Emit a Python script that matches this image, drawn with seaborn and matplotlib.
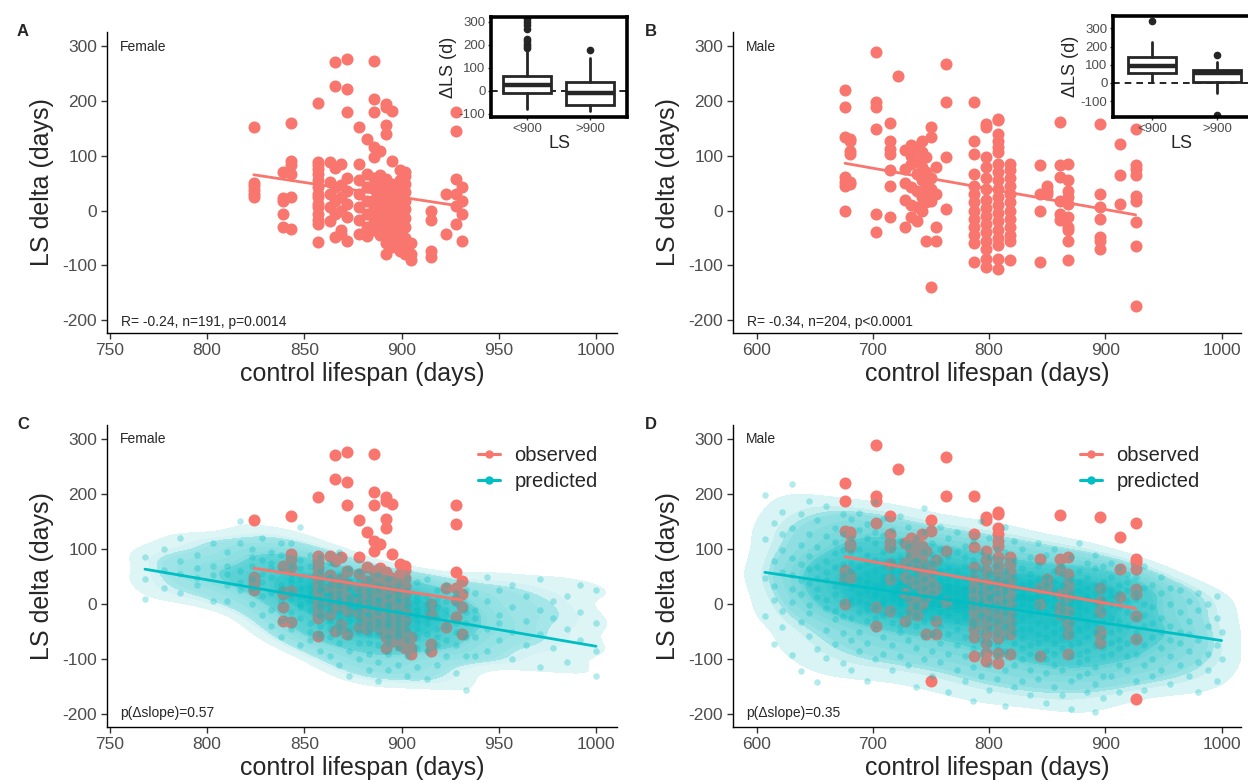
import numpy as np
import pandas as pd
import matplotlib
matplotlib.use("Agg")
import matplotlib.pyplot as plt
from matplotlib.colors import LinearSegmentedColormap, ListedColormap
from matplotlib.lines import Line2D
import seaborn as sns

RED = "#F8766D"
TEAL = "#00BFC4"

# ---- observed data: control lifespan (column) -> LS delta values ----
fem_cols = [824, 839, 843, 857, 863, 866, 869, 872, 878, 882, 886, 889, 892, 895,
            899, 902, 905, 915, 923, 928, 931]
fem_vals = [
    [152, 50, 44, 38, 30, 25],
    [70, 22, 18, -6, -30],
    [160, 91, 82, 67, 24, -33],
    [195, 88, 82, 75, 66, 55, 42, 30, 24, 12, 6, -6, -18, -25, -58],
    [88, 52, 30, 6, -20],
    [270, 227, 78, 42, 18, -6, -48],
    [85, 46, 24, 0, -36, -42],
    [276, 221, 179, 60, 36, 12, -12, -55],
    [152, 85, 55, 30, 6, -18, -42],
    [130, 67, 42, 18, -6, -30, -46],
    [273, 203, 179, 115, 97, 60, 40, 20, 5, -15, -35],
    [109, 65, 50, 30, 12, -5, -25, -45],
    [194, 188, 155, 139, 58, 40, 24, 8, -8, -24, -40, -60, -79],
    [182, 91, 48, 32, 16, 0, -16, -32, -50, -67],
    [73, 55, 40, 26, 10, -6, -22, -40, -58, -74],
    [70, 62, 48, 33, 18, 2, -14, -30, -50, -66, -79],
    [-60, -79, -91],
    [0, -18, -73, -85],
    [30, -42],
    [179, 145, 58, 30, 8, -24],
    [42, 18, -6, -55],
]

male_cols = [676, 680, 703, 715, 722, 728, 733, 738, 742, 746, 750, 754, 763, 787,
             797, 808, 818, 844, 850, 861, 868, 895, 913, 926]
male_vals = [
    [219, 188, 133, 61, 52, 45, 0],
    [127, 130, 109, 103, 52, 48],
    [288, 197, 188, 148, -6, -39],
    [159, 127, 112, 103, 73, 45, -12],
    [245],
    [110, 75, 50, 20, -30],
    [120, 100, 85, 42, 10, -12],
    [115, 90, 67, 35, 6, -20],
    [127, 106, 79, 55, 25, 0],
    [97, 70, 45, 30, 15, -55],
    [152, 133, 60, 40, 18, -139],
    [80, 30, -30, -55],
    [267, 197, 97, 3],
    [197, 127, 103, 67, 45, 30, 15, 0, -15, -30, -45, -60, -94],
    [158, 152, 97, 80, 60, 40, 20, 5, -10, -25, -40, -55, -70, -88, -103],
    [167, 164, 139, 127, 115, 106, 85, 70, 55, 40, 25, 10, -5, -20, -35, -50, -62, -88, -106],
    [85, 73, 60, 45, 30, 15, 0, -15, -30, -45, -55, -91],
    [82, 30, 0, -94],
    [45, 36, 30],
    [161, 82, 61, 18, -6, -18],
    [85, 55, 36, 24, 12, -12, -30, -36, -55, -91],
    [158, 30, 6, -15, -48, -55, -70],
    [121, 64, 12],
    [148, 82, 76, 64, 27, 18, -21, -64, -173],
]

# ---- predicted data (sample of the simulated cloud) ----
pf_cols = [768, 778, 786, 795, 803, 810, 817, 823, 828, 833, 838, 843, 848, 853, 858,
           863, 868, 873, 878, 883, 888, 893, 898, 903, 908, 913, 918, 923, 928, 933,
           938, 944, 950, 957, 964, 971, 978, 985, 992, 1000]
pf_vals = [
    [45, 85, 10],
    [62, 100, 30],
    [55, 78, 20, 120],
    [48, 65, 35, 90],
    [110, 52, 5, 70],
    [35, 95, 55, 70, 5],
    [110, 40, 150, 60, 25],
    [85, 45, 0, 70, 100, 30],
    [-20, 55, 80, 15, 40, 120],
    [-40, 65, 95, 20, 50, -10, 75],
    [35, 5, 60, -30, 90, 25, -60, 110],
    [45, 10, 70, -15, 40, 110, -45, 20, 55],
    [-5, 80, 30, -75, 0, 45, -25, 65, 15, 140],
    [15, -50, 35, -10, 90, 50, -35, 5, 25, -65, 70],
    [40, 10, -20, 60, -5, -85, 25, 85, -40, 0, 30, -55],
    [-30, 5, 35, -60, 20, -10, 50, -95, 15, -45, 75, 0],
    [20, -40, 55, -15, 5, -70, 35, -25, 10, -110, 95, -50, 0],
    [-5, 30, -60, 15, -30, 45, -85, 0, -20, 65, -45, 10, -130],
    [25, -35, 5, -70, 40, -15, -50, 15, -100, 0, 60, -25, -5],
    [-20, 10, -55, 30, -35, -5, -90, 20, -45, 45, -120, 0, -70],
    [5, -40, 25, -15, -75, 35, -55, -30, 10, -105, 55, -5, -140],
    [-25, 15, -60, -5, -40, 30, -90, -15, 0, -70, 45, -120, -35],
    [-10, -50, 20, -30, -80, 5, -60, -20, 35, -110, -40, 10],
    [-35, 0, -65, 25, -20, -95, -45, 10, -130, -5, 50],
    [-45, -10, -80, 15, -30, -60, -115, 5, -20, 40],
    [-10, -55, 15, -35, -85, 0, 45, -25, -135],
    [-45, -5, -75, 25, -25, -110, 10, -60],
    [-20, -65, 5, -40, 35, -95, -10],
    [-35, 0, -75, 20, -50, -125],
    [-60, -15, -95, 25, -35, -155],
    [-10, -60, 20, -25, -95],
    [-45, 5, 50, -85],
    [-20, 25, -65, -35],
    [-5, -50, 35, -100],
    [-30, 15, -75],
    [-55, -10, 45, -115],
    [-25, -80, 5],
    [-45, 15, -105],
    [-65, -15, 35],
    [-35, -85, -130, 25],
]

pm_cols = [607, 615, 622, 630, 638, 645, 652, 660, 667, 674, 681, 688, 695, 702, 709,
           716, 723, 730, 737, 744, 751, 758, 765, 772, 779, 786, 793, 800, 807, 814,
           821, 828, 835, 842, 849, 856, 863, 870, 877, 884, 891, 898, 905, 912, 919,
           926, 933, 940, 948, 956, 964, 972, 980, 988, 996, 1000]
pm_vals = [
    [48, 118, -22, 198],
    [78, 8, 148, -72, 33],
    [98, -12, 58, 168, -42, 128],
    [28, 83, -92, 138, 3, 218, 53],
    [108, -32, 43, 73, -122, 163, 18],
    [-2, 63, 128, -57, 88, 188, 38, -17],
    [48, -82, 103, 13, 153, 68, -142, 28],
    [78, -47, 123, -7, 43, 178, -97, 58, 8],
    [33, 93, -27, 138, -72, 68, -12, 113, 18],
    [53, -52, 98, 3, 163, -107, 38, 128, -22, 73],
    [30, 95, -65, 120, 0, 60, 155, -25, 75, 10, -120],
    [45, -50, 100, 20, 135, -15, 70, 5, 165, -85, 35],
    [55, -30, 90, 0, 120, -70, 25, 145, 40, -10, 75, -140],
    [15, 80, -45, 110, 35, -5, 60, -100, 130, 20, 185, -25],
    [50, -20, 95, 5, 70, -60, 125, 30, -90, 40, 0, 155],
    [-35, 65, 10, 100, -75, 45, 135, -10, 20, 80, -120, 55],
    [25, -50, 85, 0, 115, -20, 60, -95, 40, 160, 5, -40],
    [70, -15, 35, 105, -65, 10, 140, -35, 50, -110, 90, 20],
    [-5, 55, -80, 25, 120, -40, 80, 0, -150, 40, 65, -20],
    [45, -30, 95, 10, -60, 130, 30, -100, 70, -10, 15, 175],
    [20, -55, 75, -5, 110, 35, -85, 5, 55, -130, 90, -25],
    [-15, 60, 0, 100, -70, 30, -40, 140, 15, -105, 45, 80],
    [35, -20, 85, -55, 10, 120, -90, 50, -5, 65, -160, 25],
    [-30, 40, 5, 95, -75, 20, -120, 60, -10, 130, 0, -45],
    [15, -60, 70, -25, 105, 0, -95, 45, -140, 30, 85, -15],
    [-40, 25, -5, 80, -80, 50, -115, 10, 115, -30, 60, -175],
    [5, -50, 40, -90, 95, -20, 20, -130, 65, 0, -65, 150],
    [-25, 30, -70, 10, 85, -45, -110, 55, -5, 120, -155, 15],
    [-10, 45, -55, 0, -95, 70, 20, -135, 100, -30, 35, -75],
    [25, -40, 60, -85, -15, 95, -120, 5, -60, 40, -185, 140],
    [-35, 10, -70, 50, -110, 80, -5, -150, 30, -50, 115, -20],
    [0, -60, 35, -100, 65, -25, -140, 20, -80, 100, -45, 15],
    [-20, 40, -75, 10, -120, 55, -45, -165, 85, -5, -90, 30],
    [15, -55, -10, 70, -95, 30, -135, 0, -70, 110, -35, 45],
    [-40, 20, -85, 50, -15, -125, 5, -60, 90, -180, 35, -100],
    [-5, -70, 25, -110, 60, -35, -150, 10, -50, 100, -90, 40],
    [-25, 35, -80, 0, -120, 70, -45, -165, 15, -60, 55, -10],
    [10, -55, 45, -95, -15, -140, 85, -35, 20, -75, -190, 0],
    [-45, 25, -105, 60, -20, -70, 5, -130, 40, -90, 110, -5],
    [-30, 15, -85, 50, -125, -10, -60, 30, -160, 75, -40, -100],
    [0, -50, 35, -115, -20, 65, -75, -145, 20, -35, -195, 90],
    [-60, 10, -95, 40, -30, -130, 70, -10, -80, 25, -170],
    [0, -50, 50, -90, 25, -25, -130, 75, -70, 15],
    [-30, 35, -65, -5, -110, 65, -45, -160, 20, -80],
    [-15, -70, 40, -40, -120, 25, 5, -95, 55],
    [-50, 10, -90, 50, -25, -140, -65, 20],
    [-20, -75, 30, -110, -40, 0, 70, -155],
    [-60, -5, -100, 35, -35, -130],
    [-25, -80, 20, -50, -120, 50],
    [-40, 0, -95, -65, -145, 30],
    [-70, -15, -110, 25, -50],
    [-30, -85, 5, -130, -55],
    [-65, -10, -105, 20, -160],
    [-40, -90, 0, -120],
    [-75, -25, -140, 15],
    [-50, -100],
]

# ---- inset box plots (ΔLS by control lifespan group) ----
box_groups = ["<900", ">900"]
f_q1 = [-11, -62]
f_med = [25, -11]
f_q3 = [64, 39]
f_lo = [-77, -87]
f_hi = [175, 141]
f_fliers = [[185, 195, 205, 215, 225, 270, 285, 300, 310], [177]]
m_q1 = [52, 5]
m_med = [95, 52]
m_q3 = [144, 70]
m_lo = [5, -58]
m_hi = [227, 116]
m_fliers = [[343], [153, -178]]


def to_df(cols, vals):
    return pd.DataFrame({
        "lifespan": np.repeat(cols, [len(v) for v in vals]),
        "delta": np.concatenate(vals),
    })


fem = to_df(fem_cols, fem_vals)
male = to_df(male_cols, male_vals)
pfem = to_df(pf_cols, pf_vals)
pmale = to_df(pm_cols, pm_vals)

sns.set_theme(style="white")
plt.rcParams["font.family"] = ["Liberation Sans", "DejaVu Sans"]
plt.rcParams["axes.unicode_minus"] = False

cloud_cmap = LinearSegmentedColormap.from_list("cloud", ["#e3f7f8", "#22b8bd"])
core_cmap = ListedColormap([TEAL])

W, H = 1248, 783
fig = plt.figure(figsize=(W / 100, H / 100), dpi=100)
axA = fig.add_axes([107 / W, 1 - 333 / H, 510 / W, 301 / H])
axB = fig.add_axes([733 / W, 1 - 333 / H, 508 / W, 301 / H])
axC = fig.add_axes([107 / W, 1 - 727 / H, 510 / W, 302 / H])
axD = fig.add_axes([733 / W, 1 - 727 / H, 508 / W, 302 / H])


def style_main(ax, xlim, xticks):
    ax.set_xlim(*xlim)
    ax.set_ylim(-223, 325)
    ax.set_xticks(xticks)
    ax.set_yticks([-200, -100, 0, 100, 200, 300])
    for s in ["top", "right"]:
        ax.spines[s].set_visible(False)
    for s in ["left", "bottom"]:
        ax.spines[s].set_color("black")
        ax.spines[s].set_linewidth(1.0)
    ax.tick_params(labelsize=12.5, labelcolor="#4D4D4D", length=4, width=1,
                   color="#333333", left=True, bottom=True, pad=3)
    ax.set_xlabel("control lifespan (days)", fontsize=18, labelpad=3)
    ax.set_ylabel("LS delta (days)", fontsize=18, labelpad=6)
    ax.grid(False)


def observed(ax, df):
    sns.scatterplot(data=df, x="lifespan", y="delta", ax=ax, color=RED, s=75,
                    linewidth=0, alpha=1, zorder=2)


def fit(ax, df, color, z):
    sns.regplot(data=df, x="lifespan", y="delta", ax=ax, scatter=False, ci=None,
                color=color, line_kws={"linewidth": 2, "zorder": z})


# A / B
for ax, df, xl, xt, sex, stat in [
    (axA, fem, (748.5, 1010.8), [750, 800, 850, 900, 950, 1000], "Female",
     "R= -0.24, n=191, p=0.0014"),
    (axB, male, (579.6, 1016.7), [600, 700, 800, 900, 1000], "Male",
     "R= -0.34, n=204, p<0.0001"),
]:
    observed(ax, df)
    fit(ax, df, RED, 4)
    style_main(ax, xl, xt)
    ax.text(0.025, 0.95, sex, transform=ax.transAxes, fontsize=10, va="center")
    ax.text(0.027, 0.038, stat, transform=ax.transAxes, fontsize=10, va="center")

# C / D
for ax, df, pdf, xl, xt, sex, stat, lx in [
    (axC, fem, pfem, (748.5, 1010.8), [750, 800, 850, 900, 950, 1000], "Female",
     "p(Δslope)=0.57", 478),
    (axD, male, pmale, (579.6, 1016.7), [600, 700, 800, 900, 1000], "Male",
     "p(Δslope)=0.35", 1080),
]:
    # smooth density of the predicted cloud underneath
    sns.kdeplot(data=pdf, x="lifespan", y="delta", ax=ax, fill=True,
                cmap=cloud_cmap, levels=16, thresh=0.05, bw_adjust=0.8, zorder=1)
    observed(ax, df)
    # translucent dense core over the observed points (single bands, no seams)
    for lv, al in [([0.15, 1], 0.22), ([0.4, 1], 0.25), ([0.65, 1], 0.2)]:
        sns.kdeplot(data=pdf, x="lifespan", y="delta", ax=ax, fill=True,
                    cmap=core_cmap, levels=lv, alpha=al, bw_adjust=0.8, zorder=2.5)
    sns.scatterplot(data=pdf, x="lifespan", y="delta", ax=ax, color=TEAL, s=22,
                    linewidth=0, alpha=0.3, zorder=3)
    fit(ax, pdf, TEAL, 4)
    fit(ax, df, RED, 5)
    style_main(ax, xl, xt)
    ax.text(0.025, 0.953, sex, transform=ax.transAxes, fontsize=10, va="center")
    ax.text(0.025, 0.046, stat, transform=ax.transAxes, fontsize=10, va="center")
    handles = [Line2D([0], [0], color=RED, lw=2.2, marker="o", markersize=5),
               Line2D([0], [0], color=TEAL, lw=2.2, marker="o", markersize=5)]
    fig.legend(handles, ["observed", "predicted"], loc="upper left",
               bbox_to_anchor=(lx / W, 1 - 446 / H), frameon=False, fontsize=14.5,
               handlelength=1.1, handletextpad=0.7, labelspacing=0.35,
               borderpad=0, borderaxespad=0)


# insets
def inset(rect, xlim, ylim, q1, med, q3, lo, hi, fl):
    ax = fig.add_axes(rect)
    ax.axhline(0, color="black", lw=1.2, ls=(0, (4, 3)), zorder=1)
    stats = [{"q1": q1[i], "med": med[i], "q3": q3[i], "whislo": lo[i],
              "whishi": hi[i], "fliers": fl[i], "label": box_groups[i]}
             for i in range(len(box_groups))]
    ax.bxp(stats, positions=[0, 1], widths=0.75, patch_artist=True,
           boxprops={"facecolor": "white", "edgecolor": "#262626", "linewidth": 2},
           medianprops={"color": "#262626", "linewidth": 3.2},
           whiskerprops={"color": "#262626", "linewidth": 2},
           capprops={"linewidth": 0},
           flierprops={"marker": "o", "markerfacecolor": "#262626",
                       "markeredgecolor": "#262626", "markersize": 4.5},
           zorder=2)
    ax.set_xlim(*xlim)
    ax.set_ylim(*ylim)
    ax.set_yticks([-100, 0, 100, 200, 300])
    ax.set_xticks([0, 1])
    ax.set_xticklabels(box_groups)
    for s in ax.spines.values():
        s.set_visible(True)
        s.set_color("black")
        s.set_linewidth(2.6)
    ax.tick_params(labelsize=9.5, labelcolor="#4D4D4D", length=2.5, width=1,
                   color="#333333", left=True, bottom=True, pad=1.5)
    ax.set_ylabel("ΔLS (d)", fontsize=13, labelpad=1)
    ax.set_xlabel("LS", fontsize=13, labelpad=0)
    ax.grid(False)
    ax.set_facecolor("white")
    return ax


inset([491 / W, 1 - 117 / H, 136 / W, 100 / H], (-0.571, 1.587), (-113, 320),
      f_q1, f_med, f_q3, f_lo, f_hi, f_fliers)
inset([1113 / W, 1 - 117 / H, 137 / W, 101 / H], (-0.6, 1.51), (-188, 368),
      m_q1, m_med, m_q3, m_lo, m_hi, m_fliers)

for lbl, x, y in [("A", 23, 31), ("B", 651, 31), ("C", 23, 424), ("D", 651, 424)]:
    fig.text(x / W, 1 - y / H, lbl, fontsize=12, fontweight="bold",
             ha="center", va="center")

fig.savefig("out.png", dpi=100)
